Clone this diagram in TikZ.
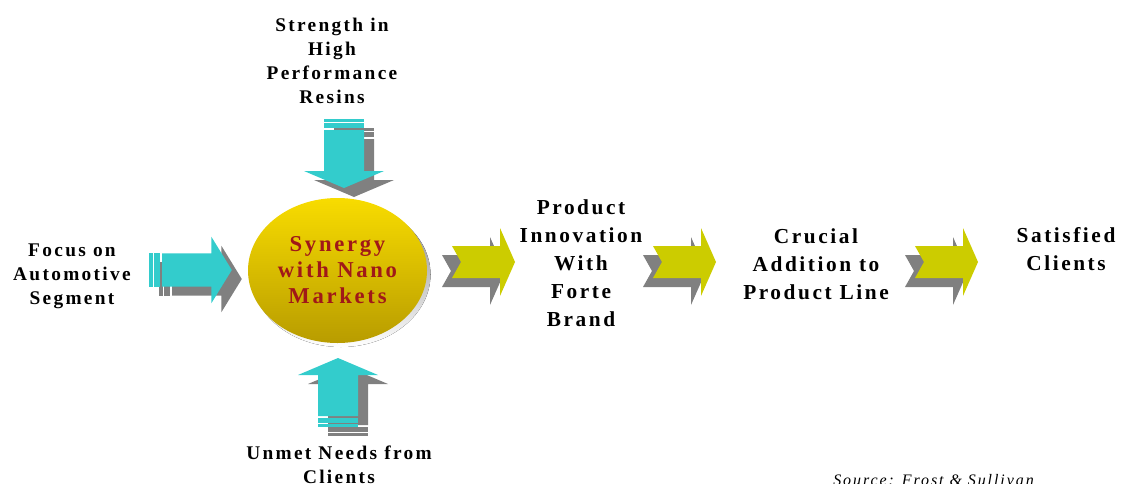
\documentclass[tikz,border=0pt]{standalone}
\usepackage{fontspec}
\setmainfont{Liberation Serif}
\newfontfamily\spacedfont[LetterSpace=12]{Liberation Serif}
\usetikzlibrary{shapes.geometric}
\definecolor{aqua}{HTML}{33CCCC}
\definecolor{shade}{HTML}{808080}
\definecolor{chartreuse}{HTML}{CCCC00}
\definecolor{goldtop}{HTML}{F8DC00}
\definecolor{goldbottom}{HTML}{B89C00}
\definecolor{nanored}{HTML}{A01818}
\tikzset{>=stealth}
\tikzset{
    smalltext/.style = {align=center, inner sep=0pt, font=\spacedfont\bfseries\fontsize{14.5}{18}\selectfont},
    bigtext/.style = {align=center, inner sep=0pt, font=\spacedfont\bfseries\fontsize{16}{21}\selectfont},
    inarrow/.pic = {
        \path[pic actions] (0,-20) rectangle (3,20);
        \path[pic actions] (4,-20) rectangle (9,20);
        \path[pic actions] (11,-20) -- (52,-20) -- (52,-40) -- (69,0) -- (52,40) -- (52,20) -- (11,20) -- cycle;
    },
    chevron/.pic = {
        \path[pic actions] (0,-16) -- (48,-16) -- (48,-34) -- (63,0) -- (48,34) -- (48,16) -- (0,16) -- (9,0) -- cycle;
    }
}

\begin{document}
\begin{tikzpicture}[x=0.75pt, y=-0.75pt]
    \useasboundingbox (0,0) rectangle (1121,483);
    \clip (0,0) rectangle (1121,483);
    % arrows into the ellipse
    \pic[fill=shade] at (159,279) [xscale=1.2, yscale=0.83] {inarrow};
    \pic[fill=aqua] at (149,270) [xscale=1.2, yscale=0.83] {inarrow};
    \pic[fill=shade] at (354,128) [rotate=-90] {inarrow};
    \pic[fill=aqua] at (344,119) [rotate=-90] {inarrow};
    \pic[fill=shade] at (348,436) [rotate=90] {inarrow};
    \pic[fill=aqua] at (338,427) [rotate=90] {inarrow};
    % ellipse
    \fill [shade] (341,274.5) ellipse [x radius=89.5, y radius=72.5];
    \node (synergy) [ellipse, inner sep=0pt, minimum width=134.25pt, minimum height=108.75pt,
        top color=goldtop, bottom color=goldbottom, text=nanored,
        align=center, font=\spacedfont\bfseries\fontsize{17}{19.5}\selectfont] at (337.5,270.5)
        {Synergy\\with Nano\\Markets};
    % chevrons
    \foreach \x in {452,653,915} {
        \pic[fill=shade] at (\x-10,271) {chevron};
        \pic[fill=chartreuse] at (\x,262) {chevron};
    }
    % labels
    \node (strength) [smalltext] at (332,61) {Strength in\\High\\Performance\\Resins};
    \node (focus) [smalltext] at (72,276.5) {Focus on\\Automotive\\Segment};
    \node (unmet) [smalltext] at (339,464.5) {Unmet Needs from\\Clients};
    \node (product) [bigtext] at (581,263.5) {Product\\Innovation\\With\\Forte\\Brand};
    \node (crucial) [bigtext] at (816,264) {Crucial\\Addition to\\Product Line};
    \node (satisfied) [bigtext] at (1066,249) {Satisfied\\Clients};
    \node (source) [anchor=base west, inner sep=0pt, font=\spacedfont\itshape\fontsize{12}{14}\selectfont] at (833,485) {Source: Frost \& Sullivan};
\end{tikzpicture}
\end{document}
